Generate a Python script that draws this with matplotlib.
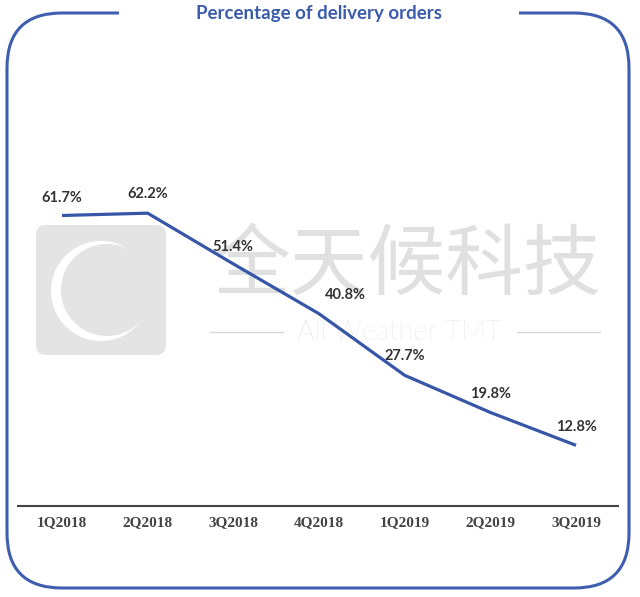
import matplotlib.pyplot as plt
from matplotlib.patches import FancyBboxPatch, Rectangle, Circle

quarters = ["1Q2018", "2Q2018", "3Q2018", "4Q2018", "1Q2019", "2Q2019", "3Q2019"]
share = [61.7, 62.2, 51.4, 40.8, 27.7, 19.8, 12.8]
share_labels = ["61.7%", "62.2%", "51.4%", "40.8%", "27.7%", "19.8%", "12.8%"]

# label offsets in pixels (dx, dy)
label_offsets = [(0, 18), (0, 19), (0, 17), (26, 19), (0, 19), (0, 18), (0, 18)]

blue = "#3756a8"
frame_blue = "#3f5eb0"
W, H = 640, 597

fig = plt.figure(figsize=(6.4, 5.97), dpi=100)

# background layer in pixel coordinates: frame + watermark
bg = fig.add_axes([0, 0, 1, 1], zorder=0)
bg.set_xlim(0, W)
bg.set_ylim(H, 0)
bg.axis("off")

frame = FancyBboxPatch((7, 13), 622, 575, boxstyle="round,pad=0,rounding_size=55",
                       fill=False, edgecolor=frame_blue, linewidth=2.2)
bg.add_patch(frame)
bg.add_patch(Rectangle((119, 5), 400, 16, facecolor="white", edgecolor="none", zorder=3))
bg.text(319, 14, "Percentage of delivery orders", ha="center", va="center",
        fontsize=13.5, fontweight="bold", color="#3b5bab", family=["Lato", "DejaVu Sans"], zorder=4)

# watermark
bg.add_patch(FancyBboxPatch((36, 225), 130, 130, boxstyle="round,pad=0,rounding_size=10",
                            facecolor="#e4e4e4", edgecolor="none"))
bg.add_patch(Circle((101, 291), 50, facecolor="white", edgecolor="none"))
bg.add_patch(Circle((107, 290), 46, facecolor="#e4e4e4", edgecolor="none"))
bg.text(407, 268, "全天候科技", ha="center", va="center", fontsize=56, color="#e0e0e0",
        family=["Noto Sans CJK SC", "DejaVu Sans"])
bg.text(399, 332, "All Weather TMT", ha="center", va="center", fontsize=20, color="#d8d8d8",
        family=["Lato", "DejaVu Sans"], fontweight="light")
bg.plot([210, 283], [332, 332], color="#d8d8d8", linewidth=1)
bg.plot([517, 600], [332, 332], color="#d8d8d8", linewidth=1)

# main chart
x0, x1 = 18, 618
px_per_cat = 85.7
ax = fig.add_axes([x0 / W, (H - 505.5) / H, (x1 - x0) / W, 329 / H], zorder=1)
ax.set_facecolor("none")
xs = list(range(len(quarters)))
ax.plot(xs, share, color=blue, linewidth=2.3, solid_capstyle="butt")
ax.set_xlim(-(62 - x0) / px_per_cat, 6 + (x1 - 576) / px_per_cat)
ax.set_ylim(0, 70)

for i, (v, lab) in enumerate(zip(share, share_labels)):
    ax.annotate(lab, (i, v), xytext=label_offsets[i], textcoords="offset pixels",
                ha="center", va="center", fontsize=10.5, fontweight="bold", color="#333333",
                family=["Lato", "DejaVu Sans"], annotation_clip=False)

for s in ["top", "right", "left"]:
    ax.spines[s].set_visible(False)
ax.spines["bottom"].set_color("#444444")
ax.spines["bottom"].set_linewidth(1.5)
ax.set_yticks([])
ax.set_xticks(xs)
ax.set_xticklabels(quarters, fontsize=11, fontweight="bold", color="#444444",
                   family=["Liberation Serif", "DejaVu Serif"])
ax.tick_params(axis="x", length=0, pad=8)

plt.savefig("out.png", dpi=100)
